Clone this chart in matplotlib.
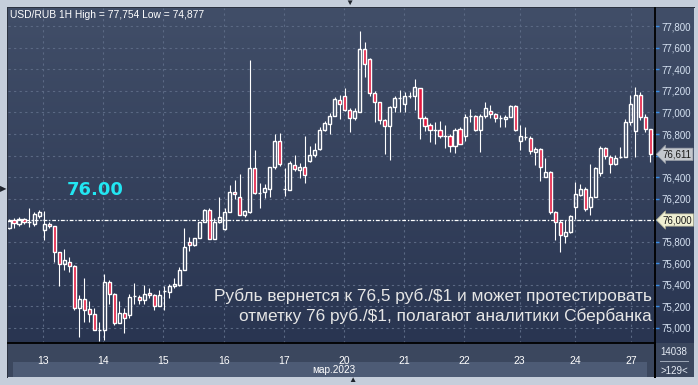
import matplotlib.pyplot as plt
import numpy as np
from matplotlib.patches import Rectangle
from matplotlib.colors import LinearSegmentedColormap
from matplotlib.ticker import FuncFormatter

plt.rcParams['font.family'] = ['Liberation Sans', 'DejaVu Sans']

# USD/RUB hourly candles, 12.03 - 27.03.2023
opens = [75.926, 75.997, 75.966, 76.007, 75.984, 75.966, 76.040, 75.904, 75.960, 75.941,
         75.700, 75.594, 75.607, 75.569, 75.179, 75.263, 75.170, 75.123, 74.974, 74.974,
         75.426, 75.312, 75.042, 75.135, 75.117, 75.290, 75.284, 75.259, 75.321, 75.303,
         75.203, 75.340, 75.333, 75.383, 75.396, 75.535, 75.793, 75.768, 75.830, 75.979,
         76.090, 75.826, 75.979, 75.916, 76.072, 76.258, 76.214, 76.047, 76.077, 76.481,
         76.254, 76.258, 76.286, 76.490, 76.737, 76.288, 76.279, 76.512, 76.465, 76.490,
         76.551, 76.602, 76.658, 76.837, 76.893, 76.967, 77.119, 77.150, 77.020, 76.946,
         77.007, 77.590, 77.497, 77.178, 77.095, 76.927, 76.871, 77.051, 77.132, 77.076,
         77.156, 77.156, 77.225, 76.946, 76.884, 76.840, 76.834, 76.778, 76.778, 76.691,
         76.846, 76.784, 76.964, 76.964, 76.840, 76.964, 77.014, 76.983, 76.953, 76.937,
         76.961, 77.060, 76.732, 76.769, 76.760, 76.635, 76.658, 76.403, 76.446, 76.077,
         75.979, 75.854, 75.886, 76.124, 76.233, 76.286, 76.118, 76.211, 76.434, 76.667,
         76.589, 76.518, 76.589, 76.589, 76.911, 76.830, 77.160, 76.955, 76.849]
highs = [76.009, 76.019, 76.028, 76.019, 76.112, 76.074, 76.096, 76.084, 75.981, 75.944,
         75.702, 75.730, 75.656, 75.582, 75.303, 75.458, 75.247, 75.184, 75.054, 75.495,
         75.442, 75.324, 75.247, 75.179, 75.309, 75.414, 75.303, 75.396, 75.365, 75.315,
         75.346, 75.389, 75.402, 75.458, 75.566, 75.923, 75.845, 75.835, 75.984, 76.102,
         76.114, 76.016, 76.214, 76.109, 76.326, 76.372, 76.428, 76.093, 77.488, 76.651,
         76.347, 76.332, 76.496, 76.803, 76.806, 76.481, 76.546, 76.605, 76.527, 76.781,
         76.688, 76.713, 76.862, 76.923, 76.992, 77.147, 77.163, 77.225, 77.039, 77.039,
         77.754, 77.658, 77.504, 77.200, 77.095, 76.939, 77.057, 77.156, 77.206, 77.193,
         77.193, 77.311, 77.230, 76.970, 76.902, 76.914, 76.921, 76.884, 76.803, 76.853,
         76.865, 76.983, 77.032, 76.977, 76.989, 77.095, 77.070, 76.995, 76.977, 76.979,
         77.067, 77.067, 76.884, 76.862, 76.781, 76.682, 76.667, 76.577, 76.453, 76.084,
         76.000, 76.000, 76.047, 76.353, 76.335, 76.304, 76.521, 76.490, 76.688, 76.682,
         76.605, 76.605, 76.682, 76.942, 77.165, 77.240, 77.190, 76.986, 76.849]
lows = [75.916, 75.926, 75.947, 75.963, 75.935, 75.947, 76.016, 75.817, 75.926, 75.612,
        75.389, 75.532, 75.514, 75.166, 74.912, 75.054, 75.049, 74.974, 74.877, 74.887,
        75.222, 75.024, 75.042, 74.949, 75.086, 75.222, 75.222, 75.222, 75.272, 75.166,
        75.203, 75.160, 75.272, 75.370, 75.386, 75.535, 75.712, 75.761, 75.830, 75.979,
        75.823, 75.826, 75.969, 75.907, 76.072, 76.195, 76.047, 76.031, 76.062, 76.239,
        76.109, 76.202, 76.217, 76.474, 76.505, 76.226, 76.279, 76.458, 76.388, 76.347,
        76.539, 76.589, 76.651, 76.825, 76.800, 76.967, 76.939, 77.014, 76.816, 76.927,
        77.007, 77.333, 77.156, 76.914, 76.890, 76.617, 76.555, 77.002, 77.007, 77.002,
        77.137, 77.026, 76.753, 76.828, 76.723, 76.710, 76.760, 76.667, 76.630, 76.623,
        76.704, 76.735, 76.909, 76.828, 76.635, 76.951, 76.951, 76.914, 76.865, 76.862,
        76.955, 76.830, 76.651, 76.744, 76.614, 76.509, 76.365, 76.403, 76.056, 75.814,
        75.705, 75.789, 75.876, 76.012, 76.223, 76.086, 76.049, 76.211, 76.409, 76.565,
        76.434, 76.512, 76.574, 76.583, 76.881, 76.589, 76.930, 76.821, 76.539]
closes = [75.991, 75.972, 76.009, 75.981, 75.984, 76.053, 76.072, 75.960, 75.941, 75.700,
          75.594, 75.625, 75.569, 75.179, 75.263, 75.160, 75.123, 74.974, 74.974, 75.426,
          75.309, 75.042, 75.135, 75.086, 75.284, 75.290, 75.259, 75.315, 75.303, 75.197,
          75.303, 75.340, 75.389, 75.408, 75.535, 75.752, 75.768, 75.830, 75.979, 76.090,
          75.823, 75.979, 76.025, 76.072, 76.258, 76.239, 76.047, 76.081, 76.481, 76.248,
          76.254, 76.295, 76.490, 76.737, 76.518, 76.288, 76.533, 76.474, 76.493, 76.416,
          76.602, 76.651, 76.837, 76.899, 76.967, 77.123, 77.076, 77.020, 76.946, 77.014,
          77.590, 77.448, 77.178, 77.095, 76.927, 76.871, 77.051, 77.132, 77.132, 77.156,
          77.156, 77.237, 76.946, 76.871, 76.834, 76.840, 76.778, 76.778, 76.691, 76.834,
          76.710, 76.958, 76.964, 76.840, 76.970, 77.039, 76.983, 76.946, 76.953, 76.955,
          77.060, 76.837, 76.781, 76.769, 76.644, 76.660, 76.490, 76.446, 76.077, 75.979,
          75.858, 75.886, 76.037, 76.239, 76.286, 76.100, 76.211, 76.481, 76.667, 76.595,
          76.518, 76.579, 76.589, 76.911, 77.079, 77.160, 76.961, 76.849, 76.611]

day_labels = ['13', '14', '15', '16', '17', '20', '21', '22', '23', '24', '27']
day_pos = [6.8, 18.8, 30.8, 42.9, 54.9, 66.9, 78.8, 90.8, 101.9, 112.9, 124.2]
price_ticks = [75.0, 75.2, 75.4, 75.6, 75.8, 76.0, 76.2, 76.4, 76.6, 76.8, 77.0, 77.2, 77.4, 77.6, 77.8]
hidden_ticks = [76.0, 76.6]  # covered by the price markers
level = 76.0
last_price = closes[-1]

W, H = 698, 385


def box(x0, y0, x1, y1):
    # pixel box (top-left origin) -> figure fraction
    return [x0 / W, 1 - y1 / H, (x1 - x0) / W, (y1 - y0) / H]


def rect(x0, y0, x1, y1, color, z=-1):
    b = box(x0, y0, x1, y1)
    fig.add_artist(Rectangle((b[0], b[1]), b[2], b[3], transform=fig.transFigure,
                             facecolor=color, edgecolor='none', zorder=z))


def price_fmt(v, _):
    if any(abs(v - h) < 1e-6 for h in hidden_ticks):
        return ''
    return f'{v:.3f}'.replace('.', ',')


fig = plt.figure(figsize=(W / 100, H / 100), dpi=100, facecolor='#c5cedb')

# gradient panel behind chart and price scale
bg = fig.add_axes(box(8, 8, 694, 343))
cmap = LinearSegmentedColormap.from_list('panel', ['#414e68', '#293551'])
bg.imshow(np.linspace(0, 1, 256).reshape(-1, 1), aspect='auto', cmap=cmap)
bg.set_axis_off()

# bottom date strip
rect(8, 343, 694, 377, '#3b475e')
rect(13, 362, 647, 377, '#4d5b75')
rect(7, 7, 695, 8, '#2b3240')
rect(7, 7, 8, 378, '#2b3240')

ax = fig.add_axes(box(8, 8, 655, 343))
ax.set_facecolor('none')

x = np.arange(len(closes))
o = np.array(opens)
c = np.array(closes)
hi = np.array(highs)
lo = np.array(lows)
top = np.maximum(o, c)
bot = np.minimum(o, c)
up = c >= o

ax.vlines(x, top, hi, color='white', lw=0.8, zorder=3)
ax.vlines(x, lo, bot, color='white', lw=0.8, zorder=3)
ax.bar(x[up], (top - bot)[up], bottom=bot[up], width=0.62, facecolor='none',
       edgecolor='white', lw=1.0, zorder=4)
ax.bar(x[~up], (top - bot)[~up], bottom=bot[~up], width=0.62, facecolor='#e3173e',
       edgecolor='white', lw=1.0, zorder=4)

ax.set_xlim(-0.2, 128.9)
ax.set_ylim(74.856, 77.972)

ax.set_yticks(price_ticks)
ax.yaxis.tick_right()
ax.yaxis.set_major_formatter(FuncFormatter(price_fmt))
ax.tick_params(axis='y', length=3, width=1, color='#3a8ee6', labelcolor='#d6e2f2',
               labelsize=7, pad=2)
ax.set_xticks(day_pos, day_labels)
ax.tick_params(axis='x', length=0, pad=9, labelcolor='white', labelsize=7.5)
ax.grid(True, color='#5b6984', lw=0.8, linestyle=(0, (2, 3)), zorder=1)
for s in ['top', 'left']:
    ax.spines[s].set_visible(False)
ax.spines['right'].set_color('black')
ax.spines['right'].set_linewidth(1.3)
ax.spines['bottom'].set_color('black')
ax.spines['bottom'].set_linewidth(1.3)

ax.axhline(level, color='white', lw=0.9, ls=(0, (3, 1.5, 1, 1.5)), zorder=5)
ax.text(17.2, 76.28, '76.00', color='#22e6f2', fontsize=13, fontweight='bold',
        family='DejaVu Sans', ha='center', va='center', zorder=6)

yt = ax.get_yaxis_transform()
ax.text(1.012, last_price, '76,611', transform=yt, ha='left', va='center', fontsize=7,
        color='#1a1a1a', zorder=7,
        bbox=dict(boxstyle='larrow,pad=0.12', fc='#c3c7cd', ec='#9aa0a8', lw=0.5))
ax.text(1.012, level, '76,000', transform=yt, ha='left', va='center', fontsize=7,
        color='#1a1a1a', zorder=7,
        bbox=dict(boxstyle='larrow,pad=0.12', fc='#efefd2', ec='#a8a890', lw=0.5))

ax.text(0.995, 0.140, 'Рубль вернется к 76,5 руб./$1 и может протестировать',
        transform=ax.transAxes, ha='right', va='center', fontsize=12.4, color='#e6e6e6', zorder=6)
ax.text(0.995, 0.080, 'отметку 76 руб./$1, полагают аналитики Сбербанка',
        transform=ax.transAxes, ha='right', va='center', fontsize=12.4, color='#e6e6e6', zorder=6)

fig.text(10 / W, 1 - 15 / H, 'USD/RUB 1H High = 77,754 Low = 74,877', fontsize=7.4,
         color='white', va='center')
fig.text(334 / W, 1 - 370 / H, 'мар.2023', fontsize=7.2, color='white', ha='center', va='center')

# price-scale corner box
rect(655, 343, 694, 377, '#3b475e')
rect(660, 361, 689, 362, '#9aa4b4', z=1)
fig.text(674 / W, 1 - 352 / H, '14038', fontsize=7, color='#e6ecf5', ha='center', va='center')
fig.text(674 / W, 1 - 371 / H, '>129<', fontsize=7, color='#e6ecf5', ha='center', va='center')
rect(654, 343, 656, 378, 'black', z=1)

# scroll markers on the frame
fig.text(349 / W, 1 - 3 / H, '▼', fontsize=6, color='#1e232c', ha='center', va='center')
fig.text(3 / W, 1 - 190 / H, '▶', fontsize=6, color='#1e232c', ha='center', va='center')
fig.text(352 / W, 1 - 381 / H, '▲', fontsize=6, color='#1e232c', ha='center', va='center')

fig.savefig('out.png', dpi=100, facecolor=fig.get_facecolor())
